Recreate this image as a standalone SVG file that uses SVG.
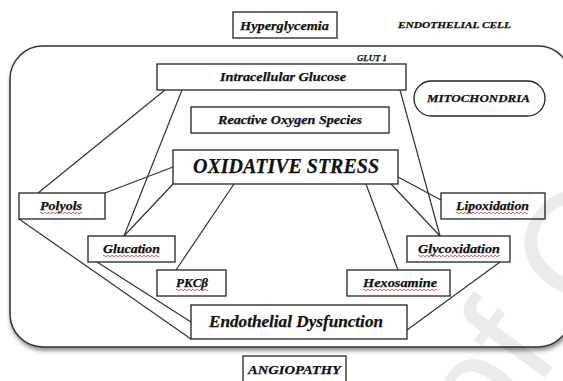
<svg xmlns="http://www.w3.org/2000/svg" width="563" height="381" viewBox="0 0 563 381">
<defs>
<filter id="sh" x="-5%" y="-5%" width="110%" height="115%">
<feDropShadow dx="1" dy="3" stdDeviation="2" flood-color="#000" flood-opacity="0.45"/>
</filter>
</defs>
<style>
.box{fill:#fff;stroke:#222;stroke-width:1.3}
.t{font-family:"Liberation Serif","Times New Roman",serif;font-weight:bold;font-style:italic;fill:#111;stroke:#111;stroke-width:0.25;text-anchor:start}
.c{stroke:#333;stroke-width:1.2;fill:none}
.w{fill:none;stroke:#e03030;stroke-width:0.8}
.wm{font-family:"Liberation Sans",sans-serif;fill:#000;fill-opacity:0.08}
</style>
<rect width="563" height="381" fill="#fff"/>
<g id="cell">
<rect x="10" y="46" width="561" height="301" rx="33" ry="33" fill="#fff" stroke="#333" stroke-width="1.5" filter="url(#sh)"/>
</g>
<g id="connectors">
<line class="c" x1="165" y1="90" x2="38" y2="193"/>
<line class="c" x1="182" y1="90" x2="124" y2="236"/>
<line class="c" x1="400" y1="90" x2="440" y2="236"/>
<line class="c" x1="173" y1="167" x2="105" y2="193"/>
<line class="c" x1="173" y1="184" x2="124" y2="236"/>
<line class="c" x1="234" y1="184" x2="176" y2="270"/>
<line class="c" x1="366" y1="184" x2="398" y2="270"/>
<line class="c" x1="391" y1="184" x2="440" y2="236"/>
<line class="c" x1="398" y1="177" x2="441" y2="200"/>
<line class="c" x1="19" y1="219" x2="191" y2="339"/>
<line class="c" x1="97" y1="262" x2="191" y2="322"/>
<line class="c" x1="500" y1="262" x2="407" y2="330"/>
</g>
<g id="hyperglycemia">
<rect class="box" x="233" y="12" width="104" height="26"/>
<text class="t" x="240" y="30" font-size="13" textLength="89" lengthAdjust="spacingAndGlyphs">Hyperglycemia</text>
</g>
<g id="endothelial-cell">
<text class="t" x="398" y="28" font-size="9" textLength="113" lengthAdjust="spacingAndGlyphs">ENDOTHELIAL CELL</text>
</g>
<g id="glut1">
<text class="t" x="357" y="61" font-size="8.5" textLength="30" lengthAdjust="spacingAndGlyphs">GLUT 1</text>
</g>
<g id="intracellular-glucose">
<rect class="box" x="157" y="64" width="249" height="26"/>
<text class="t" x="220" y="81" font-size="12.5" textLength="126" lengthAdjust="spacingAndGlyphs">Intracellular Glucose</text>
</g>
<g id="mitochondria">
<rect class="box" x="414" y="81" width="131" height="35" rx="17.5" ry="17.5"/>
<text class="t" x="427" y="102" font-size="10.5" textLength="103" lengthAdjust="spacingAndGlyphs">MITOCHONDRIA</text>
</g>
<g id="ros">
<rect class="box" x="191" y="107" width="198" height="26"/>
<text class="t" x="218" y="124" font-size="12" textLength="144" lengthAdjust="spacingAndGlyphs">Reactive Oxygen Species</text>
</g>
<g id="oxidative-stress">
<rect class="box" x="173" y="150" width="225" height="34"/>
<text class="t" x="193" y="173" font-size="21" textLength="186" lengthAdjust="spacingAndGlyphs">OXIDATIVE STRESS</text>
</g>
<g id="polyols">
<rect class="box" x="19" y="193" width="86" height="26"/>
<text class="t" x="40" y="210" font-size="12" textLength="42" lengthAdjust="spacingAndGlyphs">Polyols</text>
</g>
<g id="lipoxidation">
<rect class="box" x="441" y="193" width="104" height="26"/>
<text class="t" x="456" y="210" font-size="12" textLength="73" lengthAdjust="spacingAndGlyphs">Lipoxidation</text>
</g>
<g id="glucation">
<rect class="box" x="88" y="236" width="87" height="26"/>
<text class="t" x="103" y="253" font-size="12" textLength="57" lengthAdjust="spacingAndGlyphs">Glucation</text>
</g>
<g id="glycoxidation">
<rect class="box" x="407" y="236" width="103" height="26"/>
<text class="t" x="418" y="253" font-size="12" textLength="82" lengthAdjust="spacingAndGlyphs">Glycoxidation</text>
</g>
<g id="pkcb">
<rect class="box" x="157" y="270" width="69" height="26"/>
<text class="t" x="176" y="287" font-size="12" textLength="32" lengthAdjust="spacingAndGlyphs">PKCβ</text>
</g>
<g id="hexosamine">
<rect class="box" x="347" y="270" width="103" height="26"/>
<text class="t" x="363" y="287" font-size="12" textLength="74" lengthAdjust="spacingAndGlyphs">Hexosamine</text>
</g>
<g id="endothelial-dysfunction">
<rect class="box" x="191" y="305" width="216" height="34"/>
<text class="t" x="209" y="327" font-size="16" textLength="174" lengthAdjust="spacingAndGlyphs">Endothelial Dysfunction</text>
</g>
<g id="angiopathy">
<rect class="box" x="243" y="356" width="103" height="30"/>
<text class="t" x="248" y="374" font-size="11.5" textLength="93" lengthAdjust="spacingAndGlyphs">ANGIOPATHY</text>
</g>
<g id="spellcheck">
<path class="w" d="M40,213 q1,-1.5 2,0 t2,0 t2,0 t2,0 t2,0 t2,0 t2,0 t2,0 t2,0 t2,0 t2,0 t2,0 t2,0 t2,0 t2,0 t2,0 t2,0 t2,0 t2,0 t2,0 t2,0"/>
<path class="w" d="M456,213 q1,-1.5 2,0 t2,0 t2,0 t2,0 t2,0 t2,0 t2,0 t2,0 t2,0 t2,0 t2,0 t2,0 t2,0 t2,0 t2,0 t2,0 t2,0 t2,0 t2,0 t2,0 t2,0 t2,0 t2,0 t2,0 t2,0 t2,0 t2,0 t2,0 t2,0 t2,0 t2,0 t2,0 t2,0 t2,0 t2,0 t2,0"/>
<path class="w" d="M103,256 q1,-1.5 2,0 t2,0 t2,0 t2,0 t2,0 t2,0 t2,0 t2,0 t2,0 t2,0 t2,0 t2,0 t2,0 t2,0 t2,0 t2,0 t2,0 t2,0 t2,0 t2,0 t2,0 t2,0 t2,0 t2,0 t2,0 t2,0 t2,0 t2,0"/>
<path class="w" d="M418,256 q1,-1.5 2,0 t2,0 t2,0 t2,0 t2,0 t2,0 t2,0 t2,0 t2,0 t2,0 t2,0 t2,0 t2,0 t2,0 t2,0 t2,0 t2,0 t2,0 t2,0 t2,0 t2,0 t2,0 t2,0 t2,0 t2,0 t2,0 t2,0 t2,0 t2,0 t2,0 t2,0 t2,0 t2,0 t2,0 t2,0 t2,0 t2,0 t2,0 t2,0 t2,0 t2,0"/>
<path class="w" d="M176,290 q1,-1.5 2,0 t2,0 t2,0 t2,0 t2,0 t2,0 t2,0 t2,0 t2,0 t2,0 t2,0 t2,0 t2,0 t2,0 t2,0 t2,0"/>
<path class="w" d="M363,290 q1,-1.5 2,0 t2,0 t2,0 t2,0 t2,0 t2,0 t2,0 t2,0 t2,0 t2,0 t2,0 t2,0 t2,0 t2,0 t2,0 t2,0 t2,0 t2,0 t2,0 t2,0 t2,0 t2,0 t2,0 t2,0 t2,0 t2,0 t2,0 t2,0 t2,0 t2,0 t2,0 t2,0 t2,0 t2,0 t2,0 t2,0 t2,0"/>
</g>
<g id="watermark">
<text class="wm" x="0" y="0" font-size="150" transform="translate(488,456) rotate(-54)">of C</text>
</g>
</svg>
